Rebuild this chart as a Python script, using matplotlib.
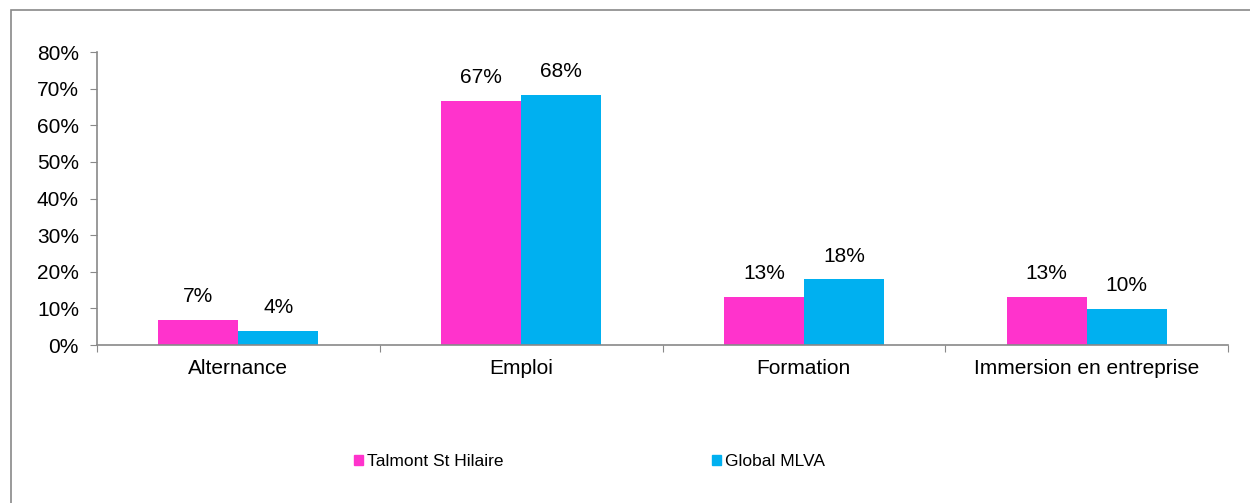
import matplotlib.pyplot as plt
import matplotlib.patches as mpatches
import numpy as np

plt.rcParams['font.family'] = ['Liberation Sans', 'DejaVu Sans']

categories = ["Alternance", "Emploi", "Formation", "Immersion en entreprise"]
talmont = [0.069, 0.667, 0.131, 0.131]
global_mlva = [0.039, 0.683, 0.179, 0.098]
series_names = ["Talmont St Hilaire", "Global MLVA"]
colors = ["#FF33CC", "#00B0F0"]

fig = plt.figure(figsize=(12.5, 5.03), dpi=100)
ax = fig.add_axes([0.0776, 0.3141, 0.9048, 0.5825])

x = np.arange(len(categories))
w = 0.283
b1 = ax.bar(x - w / 2, talmont, w, color=colors[0], label=series_names[0])
b2 = ax.bar(x + w / 2, global_mlva, w, color=colors[1], label=series_names[1])

for bars, vals in [(b1, talmont), (b2, global_mlva)]:
    for r, v in zip(bars, vals):
        ax.text(r.get_x() + r.get_width() / 2, v + 0.064, "%d%%" % round(v * 100),
                ha='center', va='center', fontsize=15)

ax.set_xlim(-0.5, len(categories) - 0.5)
ax.set_ylim(0, 0.8)
ax.set_yticks(np.arange(0, 0.81, 0.1))
ax.set_yticklabels(["%d%%" % round(t * 100) for t in np.arange(0, 0.81, 0.1)])
ax.set_xticks(np.arange(-0.5, len(categories), 1.0))
ax.set_xticklabels([])
ax.set_xticks(x, minor=True)
ax.set_xticklabels(categories, minor=True)
ax.tick_params(axis='x', which='minor', length=0, pad=10, labelsize=15)
ax.tick_params(axis='x', which='major', length=5, color='#898989', direction='out')
ax.tick_params(axis='y', length=5, color='#898989', labelsize=15, pad=8)

for s in ['top', 'right']:
    ax.spines[s].set_visible(False)
for s in ['left', 'bottom']:
    ax.spines[s].set_color('#898989')
    ax.spines[s].set_linewidth(1.2)

handles = [mpatches.Patch(color=c) for c in colors]
fig.legend(handles, series_names, loc='center left', bbox_to_anchor=(0.271, 0.083),
           ncol=2, frameon=False, handlelength=0.5, handleheight=0.5,
           handletextpad=0.25, columnspacing=12.0, fontsize=12.5)

fig.patches.append(mpatches.Rectangle((11 / 1250, -0.1), 1.2, 1 - 10 / 503 + 0.1,
                                      transform=fig.transFigure, fill=False,
                                      edgecolor='#898989', linewidth=1.2))

fig.savefig("out.png", dpi=100)
